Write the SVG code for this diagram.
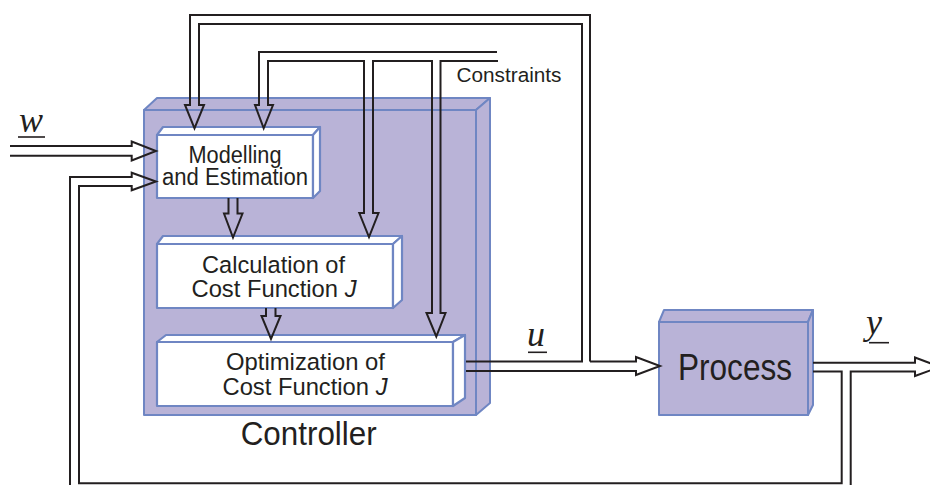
<svg xmlns="http://www.w3.org/2000/svg" width="930" height="485" viewBox="0 0 930 485">
<defs>
<style>
.bg{fill:#ffffff}
.lav{fill:#b9b3d7;stroke:#6f86c3;stroke-width:2;stroke-linejoin:round}
.wbox{fill:#ffffff;stroke:#6f86c3;stroke-width:2.2;stroke-linejoin:round}
.conn{fill:none;stroke:#231f20;stroke-width:2;stroke-linejoin:miter}
.t{font-family:"Liberation Sans",Arial,sans-serif;fill:#231f20}
.m{font-family:"Liberation Serif","Times New Roman",serif;font-style:italic;fill:#231f20}
.ul{stroke:#231f20;stroke-width:1.6}
</style>
</defs>
<rect class="bg" x="0" y="0" width="930" height="485"/>

<g id="controller">
  <rect class="lav" x="144" y="110" width="332" height="305"/>
  <polygon class="lav" points="144,110 157,98 490,98 476,110"/>
  <polygon class="lav" points="476,110 490,98 490,403 476,415"/>
  <text class="t" x="308.7" y="445" font-size="33" text-anchor="middle" textLength="136" lengthAdjust="spacingAndGlyphs">Controller</text>
</g>

<g id="modelling">
  <rect class="wbox" x="157" y="135" width="156" height="63"/>
  <polygon class="wbox" points="157,135 163,127 320,127 313,135"/>
  <polygon class="wbox" points="313,135 320,127 320,191 313,198"/>
  <text class="t" x="235" y="163" font-size="23" text-anchor="middle" textLength="93" lengthAdjust="spacingAndGlyphs">Modelling</text>
  <text class="t" x="235" y="185" font-size="23" text-anchor="middle" textLength="146" lengthAdjust="spacingAndGlyphs">and Estimation</text>
</g>

<g id="calculation">
  <rect class="wbox" x="157" y="244" width="236" height="64"/>
  <polygon class="wbox" points="157,244 163,236 402,236 393,244"/>
  <polygon class="wbox" points="393,244 402,236 402,300 393,308"/>
  <text class="t" x="273.5" y="273.3" font-size="24.5" text-anchor="middle" textLength="143" lengthAdjust="spacingAndGlyphs">Calculation of</text>
  <text class="t" x="274" y="297.3" font-size="24.5" text-anchor="middle" textLength="165" lengthAdjust="spacingAndGlyphs">Cost Function <tspan font-style="italic">J</tspan></text>
</g>

<g id="optimization">
  <rect class="wbox" x="157" y="342" width="296" height="64"/>
  <polygon class="wbox" points="157,342 166,335 465,335 453,342"/>
  <polygon class="wbox" points="453,342 465,335 465,398 453,406"/>
  <text class="t" x="305.5" y="370" font-size="24.5" text-anchor="middle" textLength="159" lengthAdjust="spacingAndGlyphs">Optimization of</text>
  <text class="t" x="305" y="395" font-size="24.5" text-anchor="middle" textLength="165" lengthAdjust="spacingAndGlyphs">Cost Function <tspan font-style="italic">J</tspan></text>
</g>

<g id="process">
  <rect class="lav" x="659" y="322" width="149" height="93"/>
  <polygon class="lav" points="659,322 664,310 813,310 808,322"/>
  <polygon class="lav" points="808,322 813,310 813,405 808,415"/>
  <text class="t" x="735" y="380" font-size="36" text-anchor="middle" textLength="114" lengthAdjust="spacingAndGlyphs">Process</text>
</g>

<g id="labels">
  <text class="t" x="509" y="81.7" font-size="20.5" text-anchor="middle" textLength="105" lengthAdjust="spacingAndGlyphs">Constraints</text>
  <text class="m" x="19" y="131.7" font-size="36">w</text>
  <line class="ul" x1="18" y1="137" x2="45" y2="137"/>
  <text class="m" x="527" y="346" font-size="36">u</text>
  <line class="ul" x1="528" y1="352.3" x2="547" y2="352.3"/>
  <text class="m" x="866" y="334" font-size="36">y</text>
  <line class="ul" x1="869" y1="342.7" x2="889" y2="342.7"/>
</g>

<g id="connectors">
  <!-- u band: to Modelling (top) and to Process -->
  <path class="conn" d="M590,361.5 L590,15 L190,15 L190,105 L185,105 L194.5,128.3 L204,105 L199,105 L199,24 L582,24 L582,361.5 L466,361.5"/>
  <path class="conn" d="M590,361.5 L636,361.5 L636,357 L660,366 L636,375 L636,371 L466,371"/>
  <!-- constraints band -->
  <path class="conn" d="M497,52 L259,52 L259,105 L255,105 L263.7,128.3 L273,105 L268,105 L268,61 L364,61 L364,213 L359.3,213 L369,237 L378.5,213 L373,213 L373,61 L432,61 L432,313 L426.5,313 L436.3,336.5 L445.5,313 L440.5,313 L440.5,61 L498,61"/>
  <!-- internal arrows -->
  <path class="conn" d="M228.5,198 L228.5,213.5 L224,213.5 L233,237.5 L242.5,213.5 L237.5,213.5 L237.5,198"/>
  <path class="conn" d="M266,308 L266,316 L261.5,316 L271,339 L280.5,316 L275.5,316 L275.5,308"/>
  <!-- w input -->
  <path class="conn" d="M10,146 L131.7,146 L131.7,141.5 L156,151 L131.7,160.5 L131.7,155.7 L10,155.7"/>
  <!-- feedback y to Modelling -->
  <path class="conn" d="M70,492 L70,177 L131.7,177 L131.7,172.7 L156,181.5 L131.7,190.3 L131.7,186 L79,186 L79,483.3 L841.7,483.3 L841.7,371.5 L813,371.5"/>
  <!-- y output -->
  <path class="conn" d="M850.7,492 L850.7,371.5 L915,371.5 L915,376 L940,366.8 L915,357.5 L915,362.7 L813,362.7"/>
</g>
</svg>
